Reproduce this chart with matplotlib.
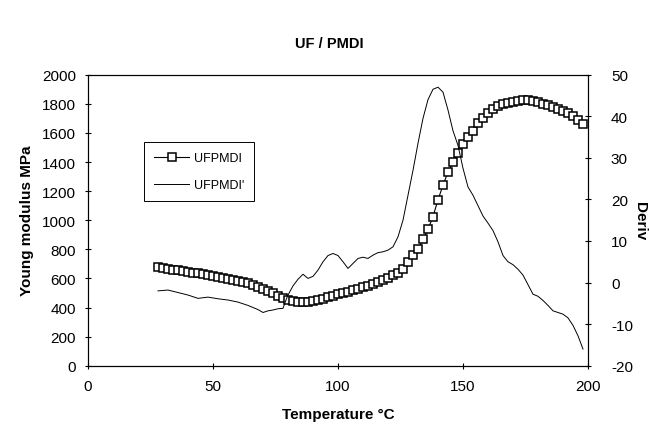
import numpy as np
import matplotlib
matplotlib.use("Agg")
import matplotlib.pyplot as plt

plt.rcParams['font.family'] = ['Liberation Sans', 'DejaVu Sans']
plt.rcParams['axes.unicode_minus'] = False

# ====================================
# data
# ====================================
# Young modulus (squares), every 2 degC from 28 to 198
temp_E = np.arange(28, 199, 2)
young = [675, 670, 665, 660, 655, 650, 645, 640, 635, 630,
         625, 618, 610, 603, 597, 590, 583, 574, 565, 553,
         542, 528, 513, 497, 480, 462, 450, 443, 440, 438,
         440, 445, 452, 460, 470, 482, 492, 500, 510, 520,
         530, 540, 550, 560, 573, 588, 603, 620, 640, 665,
         710, 760, 800, 868, 938, 1025, 1140, 1240, 1330, 1400,
         1460, 1525, 1575, 1615, 1665, 1700, 1735, 1762, 1782, 1798,
         1808, 1815, 1822, 1826, 1828, 1822, 1810, 1800, 1790, 1778,
         1765, 1750, 1735, 1715, 1690, 1660]

# derivative (thin line, right axis)
temp_D = [28, 32, 36, 40, 44, 48, 52, 56, 60, 64, 68, 70, 72, 74, 76, 78, 79, 80,
          82, 84, 86, 88, 90, 92, 94, 96, 98, 100, 102, 104, 106, 108, 110, 112,
          114, 116, 118, 120, 122, 124, 126, 128, 130, 132, 134, 136, 138, 140,
          142, 144, 146, 148, 150, 152, 154, 156, 158, 160, 162, 164, 166, 168,
          170, 172, 174, 176, 178, 180, 182, 184, 186, 188, 190, 192, 194, 196, 198]
deriv = [-2.0, -1.8, -2.4, -3.0, -3.8, -3.5, -3.9, -4.2, -4.7, -5.5, -6.5, -7.2,
         -6.8, -6.6, -6.3, -6.2, -4.5, -3.0, -0.8, 0.8, 2.0, 1.0, 1.5, 3.0, 5.0,
         6.5, 7.0, 6.5, 5.0, 3.4, 4.6, 5.8, 6.1, 5.8, 6.6, 7.2, 7.4, 7.8, 8.6,
         11.0, 15.0, 21.0, 27.0, 33.5, 39.5, 44.0, 46.5, 47.0, 45.8, 41.5, 36.5,
         33.0, 27.5, 23.0, 21.0, 18.5, 16.0, 14.3, 12.5, 9.8, 6.5, 5.0, 4.3, 3.2,
         1.8, -0.5, -2.8, -3.3, -4.3, -5.5, -6.8, -7.2, -7.6, -8.5, -10.3, -12.8,
         -16.0]

fsz = 11

# ====================================
# plot
# ====================================
fig = plt.figure(figsize=(6.49, 4.27), dpi=100)
ax1 = fig.add_axes([0.1356, 0.1412, 0.7704, 0.6815])
ax2 = ax1.twinx()

l1, = ax1.plot(temp_E, young, '-', color='black', linewidth=0.8,
               marker='s', markersize=6, markerfacecolor='white',
               markeredgecolor='black', markeredgewidth=1.1, label='UFPMDI')
l2, = ax2.plot(temp_D, deriv, '-', color='black', linewidth=0.7, label="UFPMDI'")

ax1.set_xlim(0, 200)
ax1.set_ylim(0, 2000)
ax2.set_ylim(-20, 50)
ax1.set_xticks(np.arange(0, 201, 50))
ax1.set_yticks(np.arange(0, 2001, 200))
ax2.set_yticks(np.arange(-20, 51, 10))

for ax in (ax1, ax2):
    ax.tick_params(direction='inout', length=5, width=0.8, labelsize=fsz)
    for sp in ax.spines.values():
        sp.set_linewidth(0.8)
ax1.tick_params(axis='y', pad=6)
ax1.tick_params(axis='x', pad=7)
ax2.tick_params(axis='y', pad=14)

ax1.set_xlabel('Temperature \u00b0C', fontsize=fsz, fontweight='bold', labelpad=10)
ax1.set_ylabel('Young modulus MPa', fontsize=fsz, fontweight='bold', labelpad=6)
ax2.set_ylabel('Deriv', fontsize=fsz, fontweight='bold', rotation=270, va='center')
ax2.yaxis.set_label_coords(1.104, 0.5)

fig.text(0.507, 0.897, 'UF / PMDI', ha='center', va='center',
         fontsize=10.5, fontweight='bold')

leg = ax1.legend(handles=[l1, l2], loc='upper left',
                 bbox_to_anchor=(0.112, 0.769), borderaxespad=0, fontsize=9,
                 frameon=True, fancybox=False, edgecolor='black', framealpha=1,
                 handlelength=2.8, borderpad=0.8, labelspacing=1.2,
                 handletextpad=0.4)
leg.get_frame().set_linewidth(0.7)

fig.savefig('out.png', dpi=100)
